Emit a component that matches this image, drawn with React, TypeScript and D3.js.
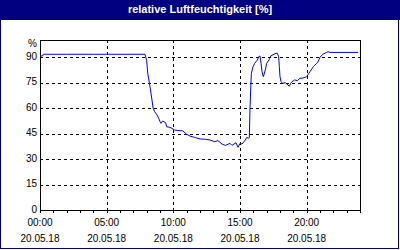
import React from "react";
import * as d3 from "d3";

const title = "relative Luftfeuchtigkeit [%]";
const yTicks = [0, 15, 30, 45, 60, 75, 90];
const xMajor = [0, 5, 10, 15, 20];
const xLabels = ["00:00", "05:00", "10:00", "15:00", "20:00"];
const dateLabel = "20.05.18";
const hours = [
  0, 0.2, 0.25, 2, 4, 6, 7.875, 8.0, 8.08, 8.25, 8.4, 8.48, 8.6, 8.78, 8.9, 9.0, 9.08, 9.2, 9.42, 9.5, 9.75, 9.9,
  10.1, 10.5, 10.7, 11.0, 11.25, 11.6, 12.0, 12.4, 12.75, 13.1, 13.35, 13.65, 13.9, 14.25, 14.4, 14.7, 14.85, 15.0,
  15.15, 15.4, 15.5, 15.65, 15.7, 15.75, 15.8, 15.85, 15.98, 16.1, 16.3, 16.4, 16.5, 16.58, 16.65, 16.75, 16.9, 17.0,
  17.2, 17.3, 17.7, 17.8, 17.9, 17.95, 18.0, 18.08, 18.2, 18.4, 18.7, 18.8, 18.9, 19.1, 19.3, 19.5, 19.65, 20.0,
  20.25, 20.5, 20.75, 20.85, 21.0, 21.2, 21.5, 21.6, 21.75, 23.85,
];
const humidity = [
  90.6, 90.6, 91.6, 91.6, 91.6, 91.6, 91.6, 88, 80.6, 72.5, 64.7, 60, 57.8, 55.9, 54, 52, 51, 52.3, 51.4, 49, 48.6, 48,
  47, 46.6, 46.6, 44.5, 43.5, 42.7, 41.8, 41.6, 41.2, 40.2, 40.8, 38.8, 38, 39.2, 38, 39.6, 36.9, 39.2,
  38.8, 41.2, 42.7, 42.3, 42.5, 60, 70.6, 80.4, 84.3, 86.3, 88.2, 90.2, 90.6, 86.3, 81.4, 78.4, 82.4, 86.3, 88.6,
  90.6, 92.2, 92.2, 90.2, 84.3, 78.4, 75.5, 74.5, 74.9, 72.8, 74.5, 75.5, 76.5, 76.1, 77.5, 77.5, 78.4,
  81.4, 84.3, 86.3, 87.2, 89.8, 91.6, 92.7, 93.1, 92.7, 92.7,
];

export default function App() {
  const W = 400, H = 250;
  const left = 40, right = 360, top = 40, bottom = 210;
  const x = d3.scaleLinear().domain([0, 24]).range([left, right]);
  const y = d3.scaleLinear().domain([0, 100]).range([bottom, top]);
  const pts: [number, number][] = hours.map((h, i) => [h, humidity[i]]);
  const line = d3.line<[number, number]>().x((d) => x(d[0])).y((d) => y(d[1]));
  const font = "'Liberation Sans', Arial, sans-serif";
  return (
    <svg width={W} height={H} style={{ position: "absolute", left: 0, top: 0 }}>
      <rect x={0} y={0} width={W} height={H} fill="#fff" />
      <rect x={0.5} y={0.5} width={398} height={248} fill="none" stroke="#000080" strokeWidth={1} />
      <rect x={0} y={0} width={W} height={20} fill="#000080" />
      <text x={200} y={10} fill="#fff" fontFamily={font} fontWeight="bold" fontSize={11} textAnchor="middle" dominantBaseline="middle">
        {title}
      </text>
      {yTicks.filter((t) => t > 0).map((t) => (
        <line key={"gy" + t} x1={left} x2={right} y1={Math.round(y(t)) + 0.5} y2={Math.round(y(t)) + 0.5} stroke="#000" strokeDasharray="3,3" shapeRendering="crispEdges" />
      ))}
      {xMajor.filter((h) => h > 0).map((h) => (
        <line key={"gx" + h} x1={Math.round(x(h)) + 0.5} x2={Math.round(x(h)) + 0.5} y1={top} y2={bottom} stroke="#000" strokeDasharray="3,3" shapeRendering="crispEdges" />
      ))}
      {d3.range(0, 25).map((h) => (
        <line key={"tx" + h} x1={Math.round(x(h)) + 0.5} x2={Math.round(x(h)) + 0.5} y1={bottom} y2={bottom + 3} stroke="#000" shapeRendering="crispEdges" />
      ))}
      <rect x={left + 0.5} y={top + 0.5} width={right - left} height={bottom - top} fill="none" stroke="#000" shapeRendering="crispEdges" />
      <path d={line(pts) || ""} fill="none" stroke="#0000ff" strokeWidth={1} />
      {yTicks.map((t) => (
        <text key={"ly" + t} x={37} y={y(t)} fontFamily={font} fontSize={10} textAnchor="end" dominantBaseline="middle" fill="#000">
          {t}
        </text>
      ))}
      <text x={37} y={44} fontFamily={font} fontSize={10} textAnchor="end" dominantBaseline="middle" fill="#000">%</text>
      {xMajor.map((h, i) => (
        <g key={"lx" + h}>
          <text x={x(h)} y={223} fontFamily={font} fontSize={10} textAnchor="middle" dominantBaseline="middle" fill="#000">
            {xLabels[i]}
          </text>
          <text x={x(h)} y={239} fontFamily={font} fontSize={10} textAnchor="middle" dominantBaseline="middle" fill="#000">
            {dateLabel}
          </text>
        </g>
      ))}
    </svg>
  );
}
